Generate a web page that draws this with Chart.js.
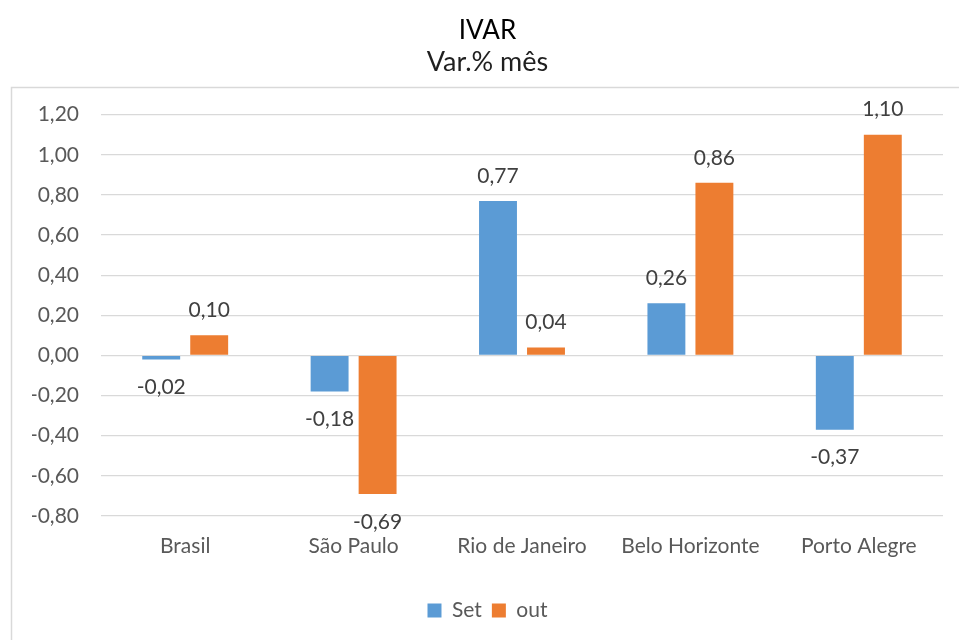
<!DOCTYPE html>
<html>
<head>
<meta charset="utf-8">
<script src="https://cdn.jsdelivr.net/npm/chart.js@4/dist/chart.umd.min.js"></script>
<style>
  html, body { margin: 0; padding: 0; background: #ffffff; }
  #wrap { width: 959px; height: 640px; position: relative; }
</style>
</head>
<body>
<div id="wrap"><canvas id="c" width="959" height="640"></canvas></div>
<script>
const categories = ["Brasil", "São Paulo", "Rio de Janeiro", "Belo Horizonte", "Porto Alegre"];
const seriesNames = ["Set", "out"];
const setValues = [-0.02, -0.18, 0.77, 0.26, -0.37];
const outValues = [0.10, -0.69, 0.04, 0.86, 1.10];
const titleText = "IVAR";
const subtitleText = "Var.% mês";

const FONT = "Lato, 'Open Sans', sans-serif";
const fmt = v => {
  if (Math.abs(v) < 1e-9) v = 0;
  return v.toFixed(2).replace('.', ',');
};

const framePlugin = {
  id: 'frame',
  beforeDraw(chart) {
    const ctx = chart.ctx;
    ctx.save();
    ctx.fillStyle = '#ffffff';
    ctx.fillRect(0, 0, chart.width, chart.height);
    ctx.strokeStyle = '#D9D9D9';
    ctx.lineWidth = 1.5;
    ctx.beginPath();
    ctx.moveTo(11.5, chart.height);
    ctx.lineTo(11.5, 87.5);
    ctx.lineTo(chart.width, 87.5);
    ctx.stroke();
    ctx.restore();
  }
};

const labelPlugin = {
  id: 'barLabels',
  afterDatasetsDraw(chart) {
    const ctx = chart.ctx;
    ctx.save();
    ctx.font = "21px " + FONT;
    ctx.fillStyle = '#404040';
    ctx.textAlign = 'center';
    ctx.textBaseline = 'middle';
    chart.data.datasets.forEach((ds, di) => {
      const meta = chart.getDatasetMeta(di);
      meta.data.forEach((bar, i) => {
        const v = ds.data[i];
        const y = v >= 0 ? bar.y - 25 : bar.y + 28;
        ctx.fillText(fmt(v), bar.x, y);
      });
    });
    ctx.restore();
  }
};

new Chart(document.getElementById('c'), {
  type: 'bar',
  data: {
    labels: categories,
    datasets: [
      { label: seriesNames[0], data: setValues, backgroundColor: '#5B9BD5', borderWidth: 0,
        categoryPercentage: 0.57, barPercentage: 0.79 },
      { label: seriesNames[1], data: outValues, backgroundColor: '#ED7D31', borderWidth: 0,
        categoryPercentage: 0.57, barPercentage: 0.79 }
    ]
  },
  options: {
    responsive: false,
    animation: false,
    devicePixelRatio: 1,
    layout: { padding: { left: 32, right: 16, top: 0, bottom: 9 } },
    plugins: {
      title: {
        display: true, text: titleText, color: '#000000',
        font: { family: FONT, size: 26, weight: 'normal' },
        padding: { top: 15, bottom: 0 }
      },
      subtitle: {
        display: true, text: subtitleText, color: '#1f1f1f',
        font: { family: FONT, size: 27, weight: 'normal' },
        padding: { top: 0, bottom: 36 }
      },
      legend: {
        display: true, position: 'bottom',
        labels: {
          color: '#595959', font: { family: FONT, size: 21 },
          boxWidth: 14, boxHeight: 14, padding: 10
        }
      },
      tooltip: { enabled: false }
    },
    scales: {
      x: {
        grid: { display: false, drawTicks: false },
        border: { display: false },
        ticks: { color: '#595959', font: { family: FONT, size: 21 }, padding: 18, maxRotation: 0 },
        afterFit(scale) { scale.height = 74; }
      },
      y: {
        min: -0.8, max: 1.2,
        grid: { color: '#D9D9D9', lineWidth: 1.3, drawTicks: false },
        border: { display: false },
        ticks: {
          stepSize: 0.2, color: '#595959', font: { family: FONT, size: 21 }, padding: 22,
          callback: v => fmt(v)
        },
        afterFit(scale) { scale.width = 69; }
      }
    }
  },
  plugins: [framePlugin, labelPlugin]
});
</script>
</body>
</html>
